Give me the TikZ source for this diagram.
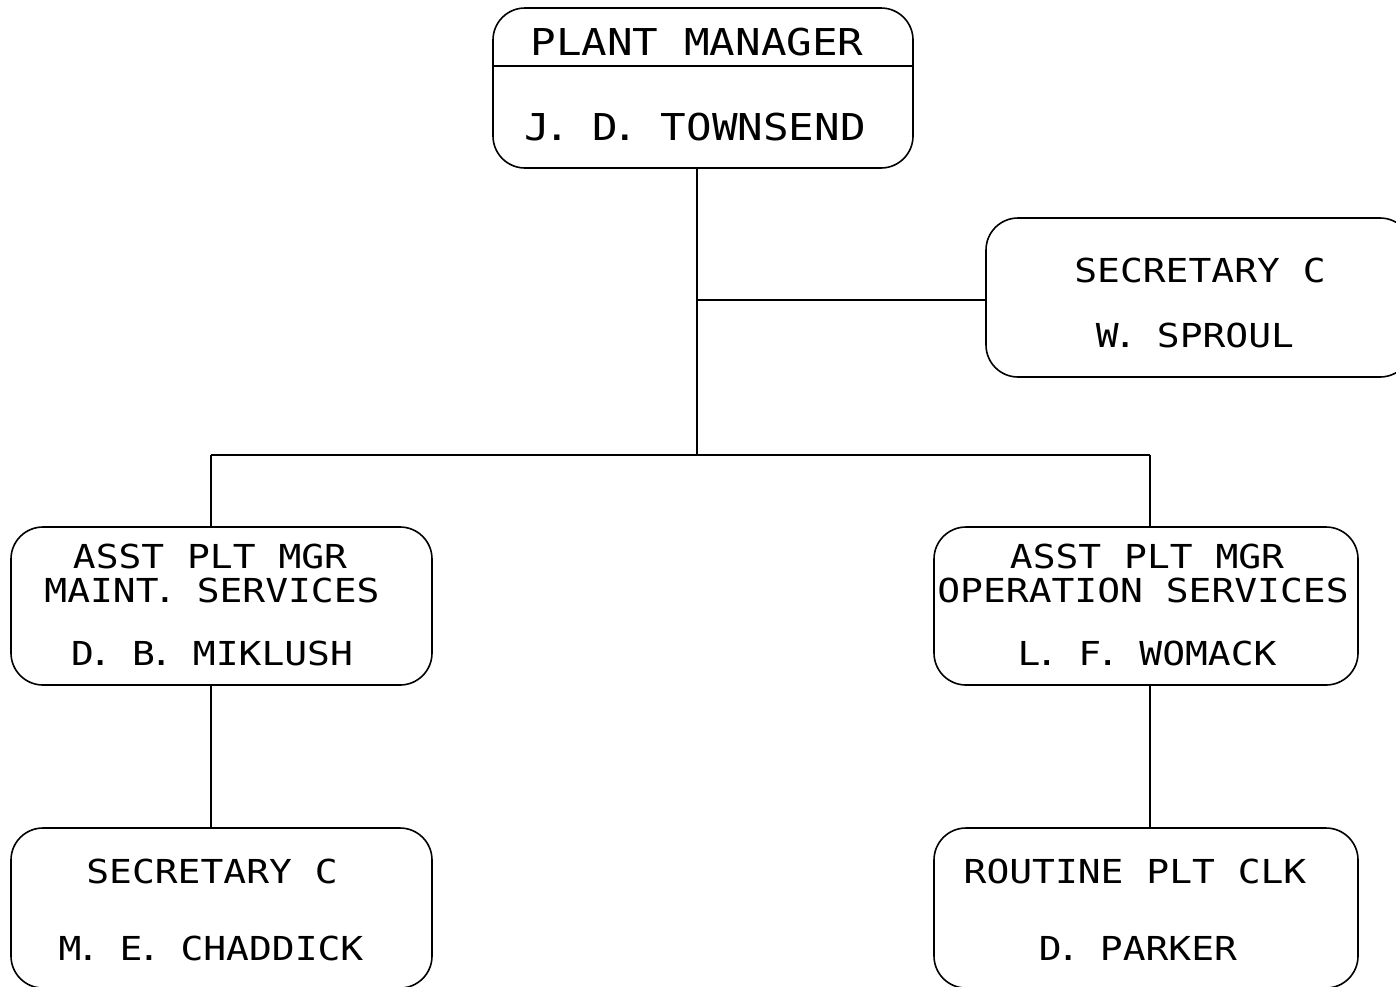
\documentclass[tikz,border=0pt]{standalone}
\usepackage{fontspec}
\usepackage{tikz}
\usetikzlibrary{calc}
\usetikzlibrary{positioning}
\newfontfamily\plotfont[FakeStretch=1.15]{DejaVu Sans Mono}
\newcommand\shortdot{\kern-.15em.\kern-.08em}

\begin{document}
\begin{tikzpicture}[
        x=1pt,y=-1pt,
        line width=1.6pt,
        box/.style={draw,rounded corners=32pt,inner sep=0pt},
        txt/.style={anchor=base,inner sep=0pt,font=\plotfont\fontsize{33}{36}\selectfont},
        bigtxt/.style={txt,font=\plotfont\fontsize{37}{40}\selectfont}
    ]
    \useasboundingbox (0,0) rectangle (1396,986);
    \clip (0,0) rectangle (1396,986);

    % boxes
    \node[box,minimum width=420pt,minimum height=160pt] (pm)    at (703,88)    {};
    \node[box,minimum width=426pt,minimum height=159pt] (sec)   at (1199,297.5) {};
    \node[box,minimum width=421pt,minimum height=158pt] (maint) at (221.5,606) {};
    \node[box,minimum width=424pt,minimum height=158pt] (ops)   at (1146,606)  {};
    \node[box,minimum width=421pt,minimum height=160pt] (chad)  at (221.5,908) {};
    \node[box,minimum width=424pt,minimum height=160pt] (park)  at (1146,908)  {};

    \draw ([yshift=-59pt]pm.north west) -- ([yshift=-59pt]pm.north east);

    % texts
    \node[bigtxt] (pmtitle) at (697,55)  {PLANT MANAGER};
    \node[bigtxt] (pmname)  at (695,140) {J\shortdot{} D\shortdot{} TOWNSEND};

    \node[txt] (sectitle) at (1200,282) {SECRETARY C};
    \node[txt] (secname)  at (1195,347) {W\shortdot{} SPROUL};

    \node[txt] (mainttitle) at (210,568) {ASST PLT MGR};
    \node[txt] (maintdept)  at (212,602) {MAINT\shortdot{} SERVICES};
    \node[txt] (maintname)  at (212,665) {D\shortdot{} B\shortdot{} MIKLUSH};

    \node[txt] (opstitle) at (1147,568) {ASST PLT MGR};
    \node[txt] (opsdept)  at (1143,602) {OPERATION SERVICES};
    \node[txt] (opsname)  at (1147,665) {L\shortdot{} F\shortdot{} WOMACK};

    \node[txt] (chadtitle) at (212,883) {SECRETARY C};
    \node[txt] (chadname)  at (211,960) {M\shortdot{} E\shortdot{} CHADDICK};

    \node[txt] (parktitle) at (1135,883) {ROUTINE PLT CLK};
    \node[txt] (parkname)  at (1138,960) {D\shortdot{} PARKER};

    % connectors
    \coordinate (tap)  at (697,300);
    \coordinate (hub)  at (697,455);
    \coordinate (lbus) at (211,455);
    \coordinate (rbus) at (1150,455);

    \draw (pm.south -| hub) -- (hub);
    \draw (tap) -- (tap -| sec.west);
    \draw (lbus) -- (rbus);
    \draw (lbus) -- (lbus |- maint.north);
    \draw (rbus) -- (rbus |- ops.north);
    \draw (lbus |- maint.south) -- (lbus |- chad.north);
    \draw (rbus |- ops.south) -- (rbus |- park.north);
\end{tikzpicture}
\end{document}
